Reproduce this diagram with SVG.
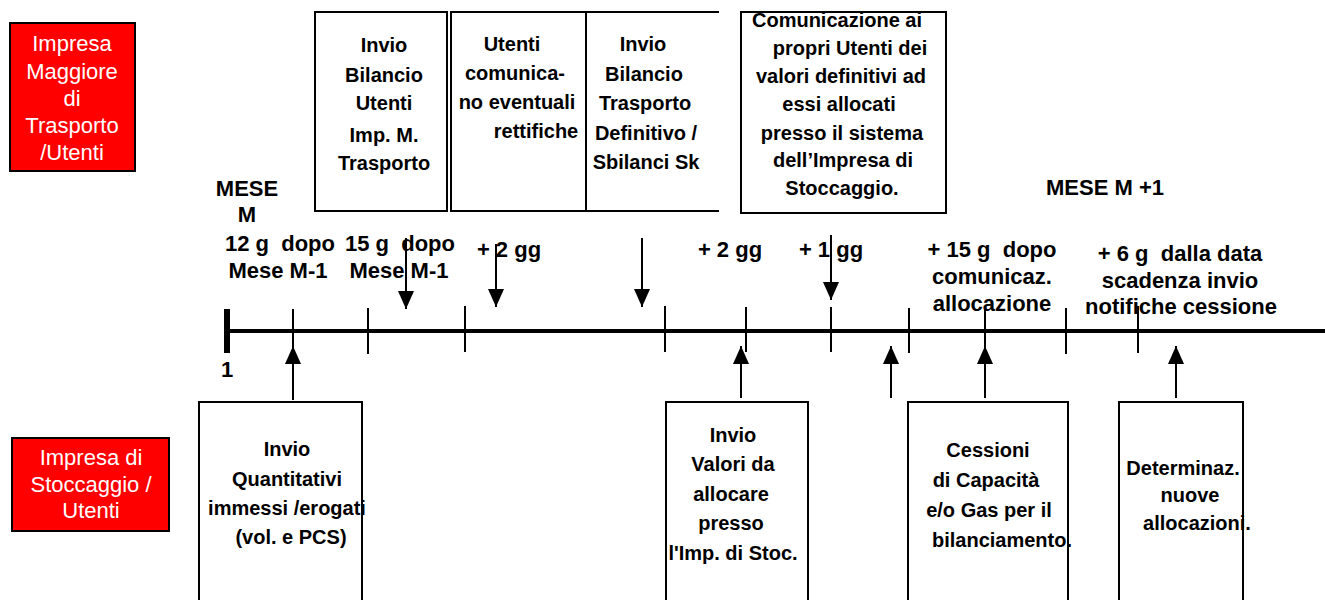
<svg xmlns="http://www.w3.org/2000/svg" width="1325" height="600" viewBox="0 0 1325 600">
<style>
.red{fill:#ff0000;stroke:#000;stroke-width:2}
.box{fill:#fff;stroke:#000;stroke-width:2}
.rt{font-family:"Liberation Sans",Arial,sans-serif;font-size:22px;fill:#fff;text-anchor:middle}
.bt{font-family:"Liberation Sans",Arial,sans-serif;font-size:20px;font-weight:bold;fill:#000;text-anchor:middle}
.lt{font-family:"Liberation Sans",Arial,sans-serif;font-size:22px;font-weight:bold;fill:#000;text-anchor:middle;white-space:pre}
.ln{stroke:#000;stroke-width:2;fill:none}
</style>
<defs>
<marker id="ah" viewBox="0 0 18 16" refX="18" refY="8" markerWidth="18" markerHeight="16" markerUnits="userSpaceOnUse" orient="auto">
<path d="M0,0 L18,8 L0,16 Z" fill="#000"/>
</marker>
</defs>

<g id="lane-trasporto">
<rect class="red" x="10" y="23" width="125" height="148"/>
<text class="rt"><tspan x="72" y="51">Impresa</tspan><tspan x="72" y="79">Maggiore</tspan><tspan x="72" y="106">di</tspan><tspan x="72" y="133">Trasporto</tspan><tspan x="72" y="160">/Utenti</tspan></text>
</g>
<g id="lane-stoccaggio">
<rect class="red" x="12" y="438" width="157" height="93"/>
<text class="rt"><tspan x="91" y="465">Impresa di</tspan><tspan x="91" y="492">Stoccaggio /</tspan><tspan x="91" y="518">Utenti</tspan></text>
</g>

<g id="box-invio-bilancio-utenti">
<rect class="box" x="315" y="12" width="132" height="199"/>
<text class="bt"><tspan x="384" y="52">Invio</tspan><tspan x="384" y="82">Bilancio</tspan><tspan x="384" y="110">Utenti</tspan><tspan x="384" y="142">Imp. M.</tspan><tspan x="384" y="170">Trasporto</tspan></text>
</g>
<g id="box-utenti-rettifiche">
<rect class="box" x="451" y="12" width="135" height="199"/>
<text class="bt"><tspan x="512" y="51">Utenti</tspan><tspan x="515" y="80">comunica-</tspan><tspan x="517" y="109">no eventuali</tspan><tspan x="536" y="138">rettifiche</tspan></text>
</g>
<g id="box-bilancio-definitivo">
<path class="ln" d="M719,12 H586 V211 H719"/>
<text class="bt"><tspan x="643" y="51">Invio</tspan><tspan x="644" y="81">Bilancio</tspan><tspan x="645" y="110">Trasporto</tspan><tspan x="646" y="140">Definitivo /</tspan><tspan x="646" y="169">Sbilanci Sk</tspan></text>
</g>
<g id="box-comunicazione">
<rect class="box" x="741" y="12" width="205" height="201"/>
<text class="bt"><tspan x="837" y="27">Comunicazione ai</tspan><tspan x="850" y="55">propri Utenti dei</tspan><tspan x="841" y="83">valori definitivi ad</tspan><tspan x="839" y="111">essi allocati</tspan><tspan x="842" y="140">presso il sistema</tspan><tspan x="843" y="167">dell’Impresa di</tspan><tspan x="842" y="195">Stoccaggio.</tspan></text>
</g>

<g id="box-quantitativi">
<rect class="box" x="199" y="402" width="163" height="220"/>
<text class="bt"><tspan x="287" y="456">Invio</tspan><tspan x="287" y="486">Quantitativi</tspan><tspan x="287" y="515">immessi /erogati</tspan><tspan x="291" y="544">(vol. e PCS)</tspan></text>
</g>
<g id="box-valori">
<rect class="box" x="666" y="402" width="142" height="220"/>
<text class="bt"><tspan x="733" y="442">Invio</tspan><tspan x="733" y="471">Valori da</tspan><tspan x="731" y="501">allocare</tspan><tspan x="731" y="530">presso</tspan><tspan x="733" y="560">l'Imp. di Stoc.</tspan></text>
</g>
<g id="box-cessioni">
<rect class="box" x="908" y="402" width="160" height="220"/>
<text class="bt"><tspan x="988" y="457">Cessioni</tspan><tspan x="986" y="487">di Capacità</tspan><tspan x="989" y="517">e/o Gas per il</tspan><tspan x="1002" y="547">bilanciamento.</tspan></text>
</g>
<g id="box-determinaz">
<rect class="box" x="1119" y="402" width="124" height="220"/>
<text class="bt"><tspan x="1183" y="475">Determinaz.</tspan><tspan x="1190" y="502">nuove</tspan><tspan x="1197" y="530">allocazioni.</tspan></text>
</g>

<g id="timeline">
<line x1="224" y1="331" x2="1325" y2="331" stroke="#000" stroke-width="4"/>
<rect x="224" y="309" width="6" height="44" fill="#000"/>
<g class="ln">
<line x1="293" y1="309" x2="293" y2="353"/>
<line x1="368" y1="308" x2="368" y2="354"/>
<line x1="465" y1="306" x2="465" y2="352"/>
<line x1="665" y1="306" x2="665" y2="352"/>
<line x1="746" y1="307" x2="746" y2="352"/>
<line x1="831" y1="307" x2="831" y2="352"/>
<line x1="909" y1="308" x2="909" y2="353"/>
<line x1="985" y1="307" x2="985" y2="353"/>
<line x1="1066" y1="308" x2="1066" y2="354"/>
<line x1="1138" y1="306" x2="1138" y2="353"/>
</g>
</g>

<g id="labels">
<text class="lt" x="247" y="196">MESE</text>
<text class="lt" x="247" y="222">M</text>
<text class="lt" x="280" y="251">12 g  dopo</text>
<text class="lt" x="278" y="278">Mese M-1</text>
<text class="lt" x="400" y="251">15 g  dopo</text>
<text class="lt" x="399" y="278">Mese M-1</text>
<text class="lt" x="509" y="257">+ 2 gg</text>
<text class="lt" x="730" y="257">+ 2 gg</text>
<text class="lt" x="831" y="257">+ 1 gg</text>
<text class="lt" x="992" y="257">+ 15 g  dopo</text>
<text class="lt" x="992" y="284">comunicaz.</text>
<text class="lt" x="992" y="311">allocazione</text>
<text class="lt" x="1180" y="261">+ 6 g  dalla data</text>
<text class="lt" x="1180" y="288">scadenza invio</text>
<text class="lt" x="1181" y="314">notifiche cessione</text>
<text class="lt" x="1105" y="195">MESE M +1</text>
<text class="lt" x="227" y="377">1</text>
</g>

<g id="connectors" class="ln" marker-end="url(#ah)">
<line x1="406" y1="238" x2="406" y2="309"/>
<line x1="496" y1="244" x2="496" y2="307"/>
<line x1="642" y1="238" x2="642" y2="307"/>
<line x1="831" y1="235" x2="831" y2="300"/>
<line x1="293" y1="400" x2="293" y2="346"/>
<line x1="741" y1="398" x2="741" y2="346"/>
<line x1="891" y1="398" x2="891" y2="346"/>
<line x1="985" y1="398" x2="985" y2="346"/>
<line x1="1176" y1="398" x2="1176" y2="346"/>
</g>
</svg>
